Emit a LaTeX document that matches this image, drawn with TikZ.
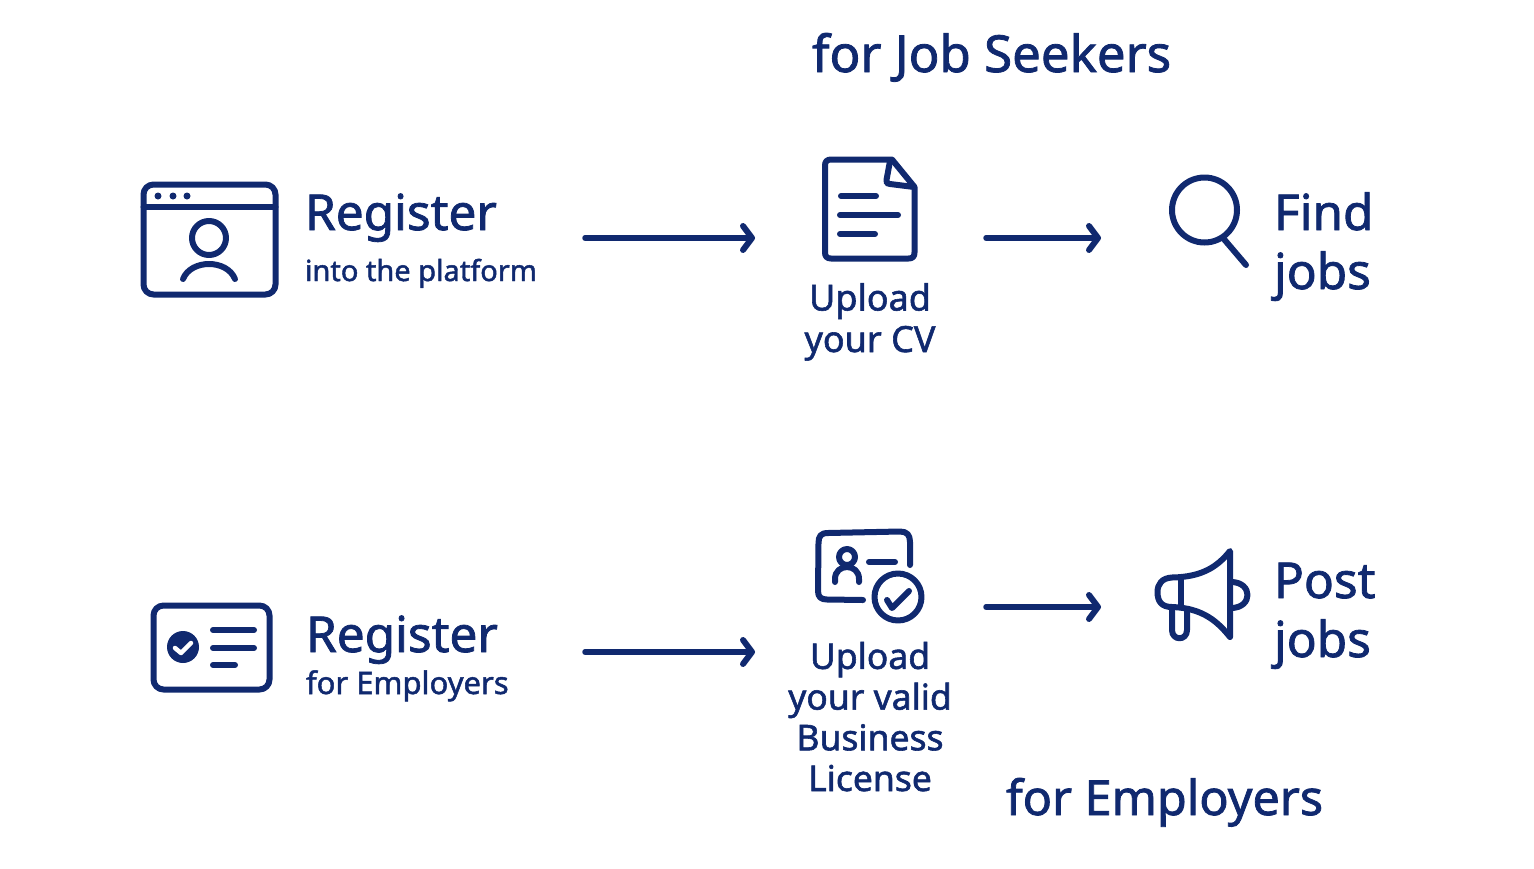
\documentclass[tikz,border=0pt]{standalone}
\usepackage{fontspec}
\setmainfont[FakeBold=1.6]{Noto Sans}
\usetikzlibrary{arrows.meta}
\definecolor{navy}{HTML}{10296F}
\newcommand{\fsz}[2]{\fontsize{#1}{#2}\selectfont}
\tikzset{
 x=1pt,y=-1pt,
 icon/.style={draw=navy,line width=6pt,line cap=round,line join=round},
 thin icon/.style={icon,line width=4.5pt},
 flow/.style={draw=navy,line width=5.5pt,line cap=round,-{Straight Barb[length=9pt,width=24pt,round,line width=6pt]}},
 txt/.style={text=navy,inner sep=0pt,outer sep=0pt},
 big/.style={txt,anchor=base west,font=\fsz{49.5}{59},align=left},
 head/.style={txt,anchor=base west},
 sub/.style={txt,anchor=base west},
 stepl/.style={txt,anchor=base,font=\fsz{36}{41.5},align=center},
}
\begin{document}
\begin{tikzpicture}
\useasboundingbox (0,0) rectangle (1534,868);
% titles
\node[head,font=\fsz{51}{56}] (t1) at (812,72) {for Job Seekers};
\node[head,font=\fsz{48.5}{56}] (t2) at (1006,815) {for Employers};
% register icon
\draw[icon,rounded corners=10pt] (143.5,184.5) rectangle (275.5,294.5);
\draw[icon] (143.5,207) -- (275.5,207);
\foreach \px in {158,173,187} \fill[navy] (\px,196) circle (3.5pt);
\draw[icon] (209,238) circle (17pt);
\draw[icon] (183,279) .. controls (191,259) and (227,259) .. (235,279);
\node[big] (r1) at (305,230) {Register};
\node[sub,font=\fsz{29}{36}] (r1s) at (305,281) {into the platform};
% arrows row 1
\coordinate (a1s) at (585,238); \coordinate (a1e) at (755,238);
\draw[flow] (a1s) -- (a1e);
\coordinate (a2s) at (986,238); \coordinate (a2e) at (1101,238);
\draw[flow] (a2s) -- (a2e);
% document
\draw[icon] (892,159.5) -- (831,159.5) .. controls (827,159.5) and (825,161.5) .. (825,165.5) -- (825,252.5) .. controls (825,256.5) and (827,258.5) .. (831,258.5) -- (908.5,258.5) .. controls (912.5,258.5) and (914.5,256.5) .. (914.5,252.5) -- (914.5,187) -- cycle;
\draw[icon] (890,161) -- (886.5,180) .. controls (886,183) and (887,184) .. (890,184) -- (914,187);
\draw[icon] (841,196) -- (876,196) (840,215) -- (898,215) (840,234) -- (875,234);
\node[stepl] (u1) at (870,352) {Upload\\your CV};
% magnifier
\draw[icon] (1204.5,210) circle (32.5pt);
\draw[icon] (1223,238) -- (1246,265);
\node[big] (f1) at (1274,289) {Find\\jobs};
% employer card
\draw[icon,rounded corners=10pt] (153.5,605.5) rectangle (269.5,689.5);
\fill[navy] (183,647) circle (16pt);
\draw[thin icon,draw=white] (175,648) -- (181,653) -- (191,643);
\draw[icon] (213,630) -- (254,630) (213,648) -- (254,648) (213,665) -- (235,665);
\node[big] (r2) at (306,652) {Register};
\node[sub,font=\fsz{31}{36}] (r2s) at (306,694) {for Employers};
% arrows row 2
\coordinate (a3s) at (585,652); \coordinate (a3e) at (755,652);
\draw[flow] (a3s) -- (a3e);
\coordinate (a4s) at (986,607); \coordinate (a4e) at (1101,607);
\draw[flow] (a4s) -- (a4e);
% licence icon
\draw[icon] (910,565) -- (910,542) .. controls (910,535) and (907,531.5) .. (900,531.5) -- (828,533) .. controls (821,533) and (818.5,536) .. (818.5,543) -- (818,591) .. controls (818,597) and (821,599.5) .. (827,599.5) -- (863,600);
\draw[icon] (847,557) circle (8pt);
\draw[icon] (835,582) -- (835,579) .. controls (835,563) and (859,563) .. (859,579) -- (859,582);
\draw[icon] (869,562) -- (895,562);
\draw[icon] (898,597) circle (23.5pt);
\draw[icon] (887,600) -- (892,608) -- (909,591);
\node[stepl,font=\fsz{35.5}{40.7}] (u2) at (870,791) {Upload\\your valid\\Business\\License};
% megaphone
\draw[icon] (1230,551) -- (1230,637) .. controls (1218,622) and (1203,608) .. (1172,607) .. controls (1162,607) and (1157.5,602) .. (1157.5,592) .. controls (1157.5,584) and (1162,578) .. (1172,577.5) .. controls (1203,577) and (1218,566) .. (1230,551) -- cycle;
\draw[icon] (1181,578) -- (1181,607);
\draw[icon] (1172,607) -- (1172,630) .. controls (1172,641) and (1187,641) .. (1187,630) -- (1187,610);
\draw[icon] (1231,582) .. controls (1253,582) and (1253,608) .. (1231,608);
\node[big] (p1) at (1274,657) {Post\\jobs};
\end{tikzpicture}
\end{document}
